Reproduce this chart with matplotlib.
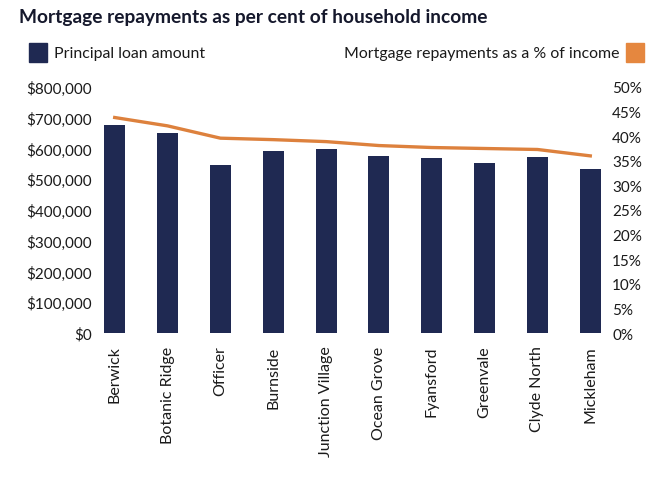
import matplotlib
matplotlib.use("Agg")
import matplotlib.pyplot as plt
from matplotlib.patches import Rectangle
from matplotlib.ticker import FuncFormatter

# data
suburbs = ["Berwick", "Botanic Ridge", "Officer", "Burnside", "Junction Village",
           "Ocean Grove", "Fyansford", "Greenvale", "Clyde North", "Mickleham"]
loan_amount = [676000, 650000, 546000, 593000, 598000,
               575000, 568000, 552000, 572000, 534000]
repay_pct = [43.8, 42.1, 39.6, 39.3, 38.9, 38.1, 37.7, 37.5, 37.3, 36.0]

navy = "#1f2952"
orange = "#dd813d"
txt = "#1a1a1a"

plt.rcParams["font.family"] = ["Lato", "DejaVu Sans"]

W, H = 667, 485
fig = plt.figure(figsize=(W / 100, H / 100), dpi=100)


def fx(px):
    return px / W


def fy(py):
    return 1 - py / H


# plot area in pixels
left, right, top, bottom = 96, 608, 88, 334
ax = fig.add_axes([fx(left), fy(bottom), fx(right - left), (bottom - top) / H])
x = list(range(len(suburbs)))
ax.bar(x, loan_amount, width=0.4, color=navy, zorder=2)
ax.set_ylim(0, 800000)
ax.set_yticks(range(0, 800001, 100000))
ax.yaxis.set_major_formatter(FuncFormatter(lambda v, p: f"${v:,.0f}"))
ax.set_xlim(-0.354, 9.335)
ax.set_xticks(x)
ax.set_xticklabels(suburbs, rotation=90)
ax.tick_params(axis="x", length=0, pad=9, labelsize=11.5, labelcolor=txt)
ax.tick_params(axis="y", length=0, pad=3, labelsize=11, labelcolor=txt)
for s in ax.spines.values():
    s.set_visible(False)

ax2 = ax.twinx()
ax2.plot(x, repay_pct, color=orange, lw=2.4, zorder=3)
ax2.set_ylim(0, 50)
ax2.set_yticks(range(0, 51, 5))
ax2.yaxis.set_major_formatter(FuncFormatter(lambda v, p: f"{v:.0f}%"))
ax2.tick_params(axis="y", length=0, pad=3, labelsize=11, labelcolor=txt)
for s in ax2.spines.values():
    s.set_visible(False)

# title and legend
fig.text(fx(19), fy(18), "Mortgage repayments as per cent of household income",
         fontsize=13.8, fontweight="bold", color="#15182c", va="center", ha="left")
fig.patches.append(Rectangle((fx(29), fy(63)), fx(18), 19 / H, color=navy,
                             transform=fig.transFigure, figure=fig))
fig.text(fx(54), fy(54), "Principal loan amount", fontsize=11.4, color=txt,
         va="center", ha="left")
fig.patches.append(Rectangle((fx(626), fy(63)), fx(18), 19 / H, color="#e5873f",
                             transform=fig.transFigure, figure=fig))
fig.text(fx(619), fy(54), "Mortgage repayments as a % of income", fontsize=11.4,
         color=txt, va="center", ha="right")

fig.savefig("out.png", dpi=100)
